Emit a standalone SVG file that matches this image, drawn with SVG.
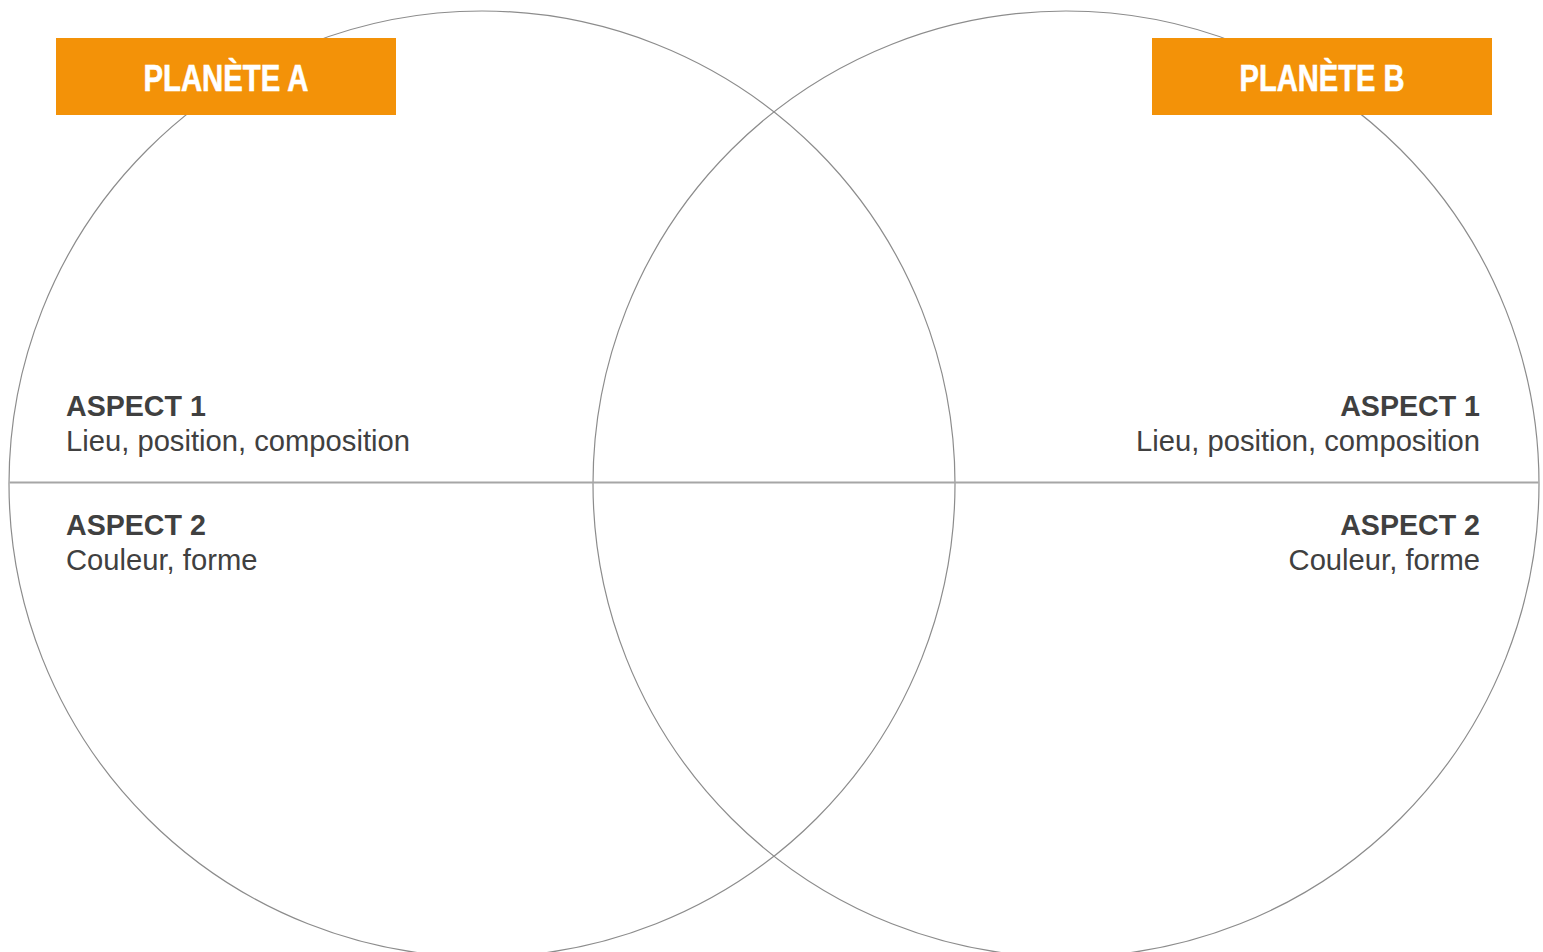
<svg xmlns="http://www.w3.org/2000/svg" width="1543" height="952" viewBox="0 0 1543 952">
<style>
.ring{fill:none;stroke:#8c8c8c;stroke-width:1.2}
.divider{stroke:#a6a6a6;stroke-width:2}
.tag{fill:#f39208}
.tagtxt{font-family:"Liberation Sans Narrow","Liberation Sans",Arial,sans-serif;font-weight:bold;font-size:37px;fill:#ffffff;text-anchor:middle;stroke:#ffffff;stroke-width:0.6}
.h{font-family:"Liberation Sans",Arial,sans-serif;font-weight:bold;font-size:28.6px;fill:#404040}
.t{font-family:"Liberation Sans",Arial,sans-serif;font-size:29.2px;fill:#404040}
.r{text-anchor:end}
</style>
<rect width="1543" height="952" fill="#ffffff"/>
<g id="circle-a"><circle class="ring" cx="482" cy="484" r="473"/></g>
<g id="circle-b"><circle class="ring" cx="1066" cy="484" r="473"/></g>
<g id="connectors"><line class="divider" x1="9.5" y1="482.5" x2="1538.5" y2="482.5"/></g>
<g id="planete-a">
<rect class="tag" x="56" y="38" width="340" height="77"/>
<text class="tagtxt" x="226" y="90.5" textLength="165" lengthAdjust="spacingAndGlyphs">PLANÈTE A</text>
</g>
<g id="planete-b">
<rect class="tag" x="1152" y="38" width="340" height="77"/>
<text class="tagtxt" x="1322" y="90.5" textLength="165" lengthAdjust="spacingAndGlyphs">PLANÈTE B</text>
</g>
<g id="a-aspect1">
<text class="h" x="66" y="415.5">ASPECT 1</text>
<text class="t" x="66" y="450.5">Lieu, position, composition</text>
</g>
<g id="a-aspect2">
<text class="h" x="66" y="535">ASPECT 2</text>
<text class="t" x="66" y="569.5">Couleur, forme</text>
</g>
<g id="b-aspect1">
<text class="h r" x="1480" y="415.5">ASPECT 1</text>
<text class="t r" x="1480" y="450.5">Lieu, position, composition</text>
</g>
<g id="b-aspect2">
<text class="h r" x="1480" y="535">ASPECT 2</text>
<text class="t r" x="1480" y="569.5">Couleur, forme</text>
</g>
</svg>
